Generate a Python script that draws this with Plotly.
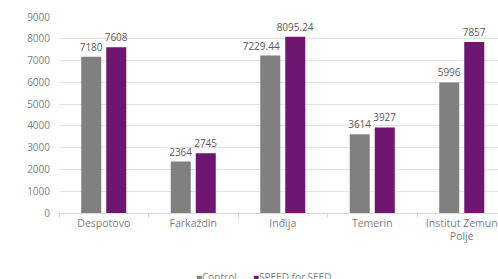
import plotly.graph_objects as go

categories = ["Despotovo", "Farkaždin", "Inđija", "Temerin", "Institut Zemun<br>Polje"]
control = [7180, 2364, 7229.44, 3614, 5996]
speed = [7608, 2745, 8095.24, 3927, 7857]
y_ticks = [0, 1000, 2000, 3000, 4000, 5000, 6000, 7000, 8000, 9000]

CONTROL_COLOR = "#808080"
SPEED_COLOR = "#6e1670"

def fmt(v):
    return f"{v:g}"

# the Inđija control label sits a little to the left (as in the reference) to clear the neighbouring bar
control_text = [fmt(v) for v in control]
control_text[2] = control_text[2] + "\u00a0" * 7

fig = go.Figure()
fig.add_trace(go.Bar(
    x=categories, y=control, name="Control",
    marker=dict(color=CONTROL_COLOR, line=dict(width=0)),
    text=control_text, textposition="outside", constraintext="none",
    textfont=dict(color="#595959", size=10), cliponaxis=False,
    showlegend=False,
))
fig.add_trace(go.Bar(
    x=categories, y=speed, name="SPEED for SEED",
    marker=dict(color=SPEED_COLOR, line=dict(width=0)),
    text=[fmt(v) for v in speed], textposition="outside", constraintext="none",
    textfont=dict(color="#595959", size=10), cliponaxis=False,
    showlegend=False,
))
# legend entries (coloured square glyph right before the name, as in the reference)
fig.add_trace(go.Scatter(x=[None], y=[None], mode="lines",
                         name=f'<span style="color:{CONTROL_COLOR}">■</span>Control',
                         line=dict(color="rgba(0,0,0,0)", width=0),
                         legend="legend"))
fig.add_trace(go.Scatter(x=[None], y=[None], mode="lines",
                         name=f'<span style="color:{SPEED_COLOR}">■</span>SPEED for SEED',
                         line=dict(color="rgba(0,0,0,0)", width=0),
                         legend="legend2"))

fig.update_layout(
    width=498, height=279,
    margin=dict(l=59, r=0, t=17, b=66, autoexpand=False),
    paper_bgcolor="white", plot_bgcolor="white",
    font=dict(family="Open Sans", size=10, color="#7f7f7f"),
    barmode="group", bargap=0.441, bargroupgap=0.2,
    uniformtext=dict(mode=False),
    legend=dict(orientation="h", xref="container", yref="container",
                x=156/498, y=1-277/279, xanchor="left", yanchor="middle",
                font=dict(size=10, color="#7f7f7f"), bgcolor="rgba(0,0,0,0)"),
    legend2=dict(orientation="h", xref="container", yref="container",
                 x=213/498, y=1-277/279, xanchor="left", yanchor="middle",
                 font=dict(size=10, color="#7f7f7f"), bgcolor="rgba(0,0,0,0)"),
)
fig.update_xaxes(
    range=[-0.5, 4.405], showline=True, linecolor="#d9d9d9", linewidth=1,
    ticks="outside", tickson="boundaries", ticklen=4, tickcolor="#d9d9d9",
    tickfont=dict(size=10.5, color="#7f7f7f"), showgrid=False, fixedrange=True,
    automargin=False,
)
fig.update_yaxes(
    range=[0, 9000], tickvals=y_ticks, ticktext=[str(v) for v in y_ticks],
    showgrid=True, gridcolor="#e3e3e3", gridwidth=1, zeroline=False,
    ticks="outside", ticklen=6, tickcolor="rgba(0,0,0,0)",
    tickfont=dict(size=10, color="#7f7f7f"), showline=False, automargin=False,
    fixedrange=True,
)

fig.write_html("out.html", config={"displayModeBar": False},
               post_script="document.body.style.margin='0';")
